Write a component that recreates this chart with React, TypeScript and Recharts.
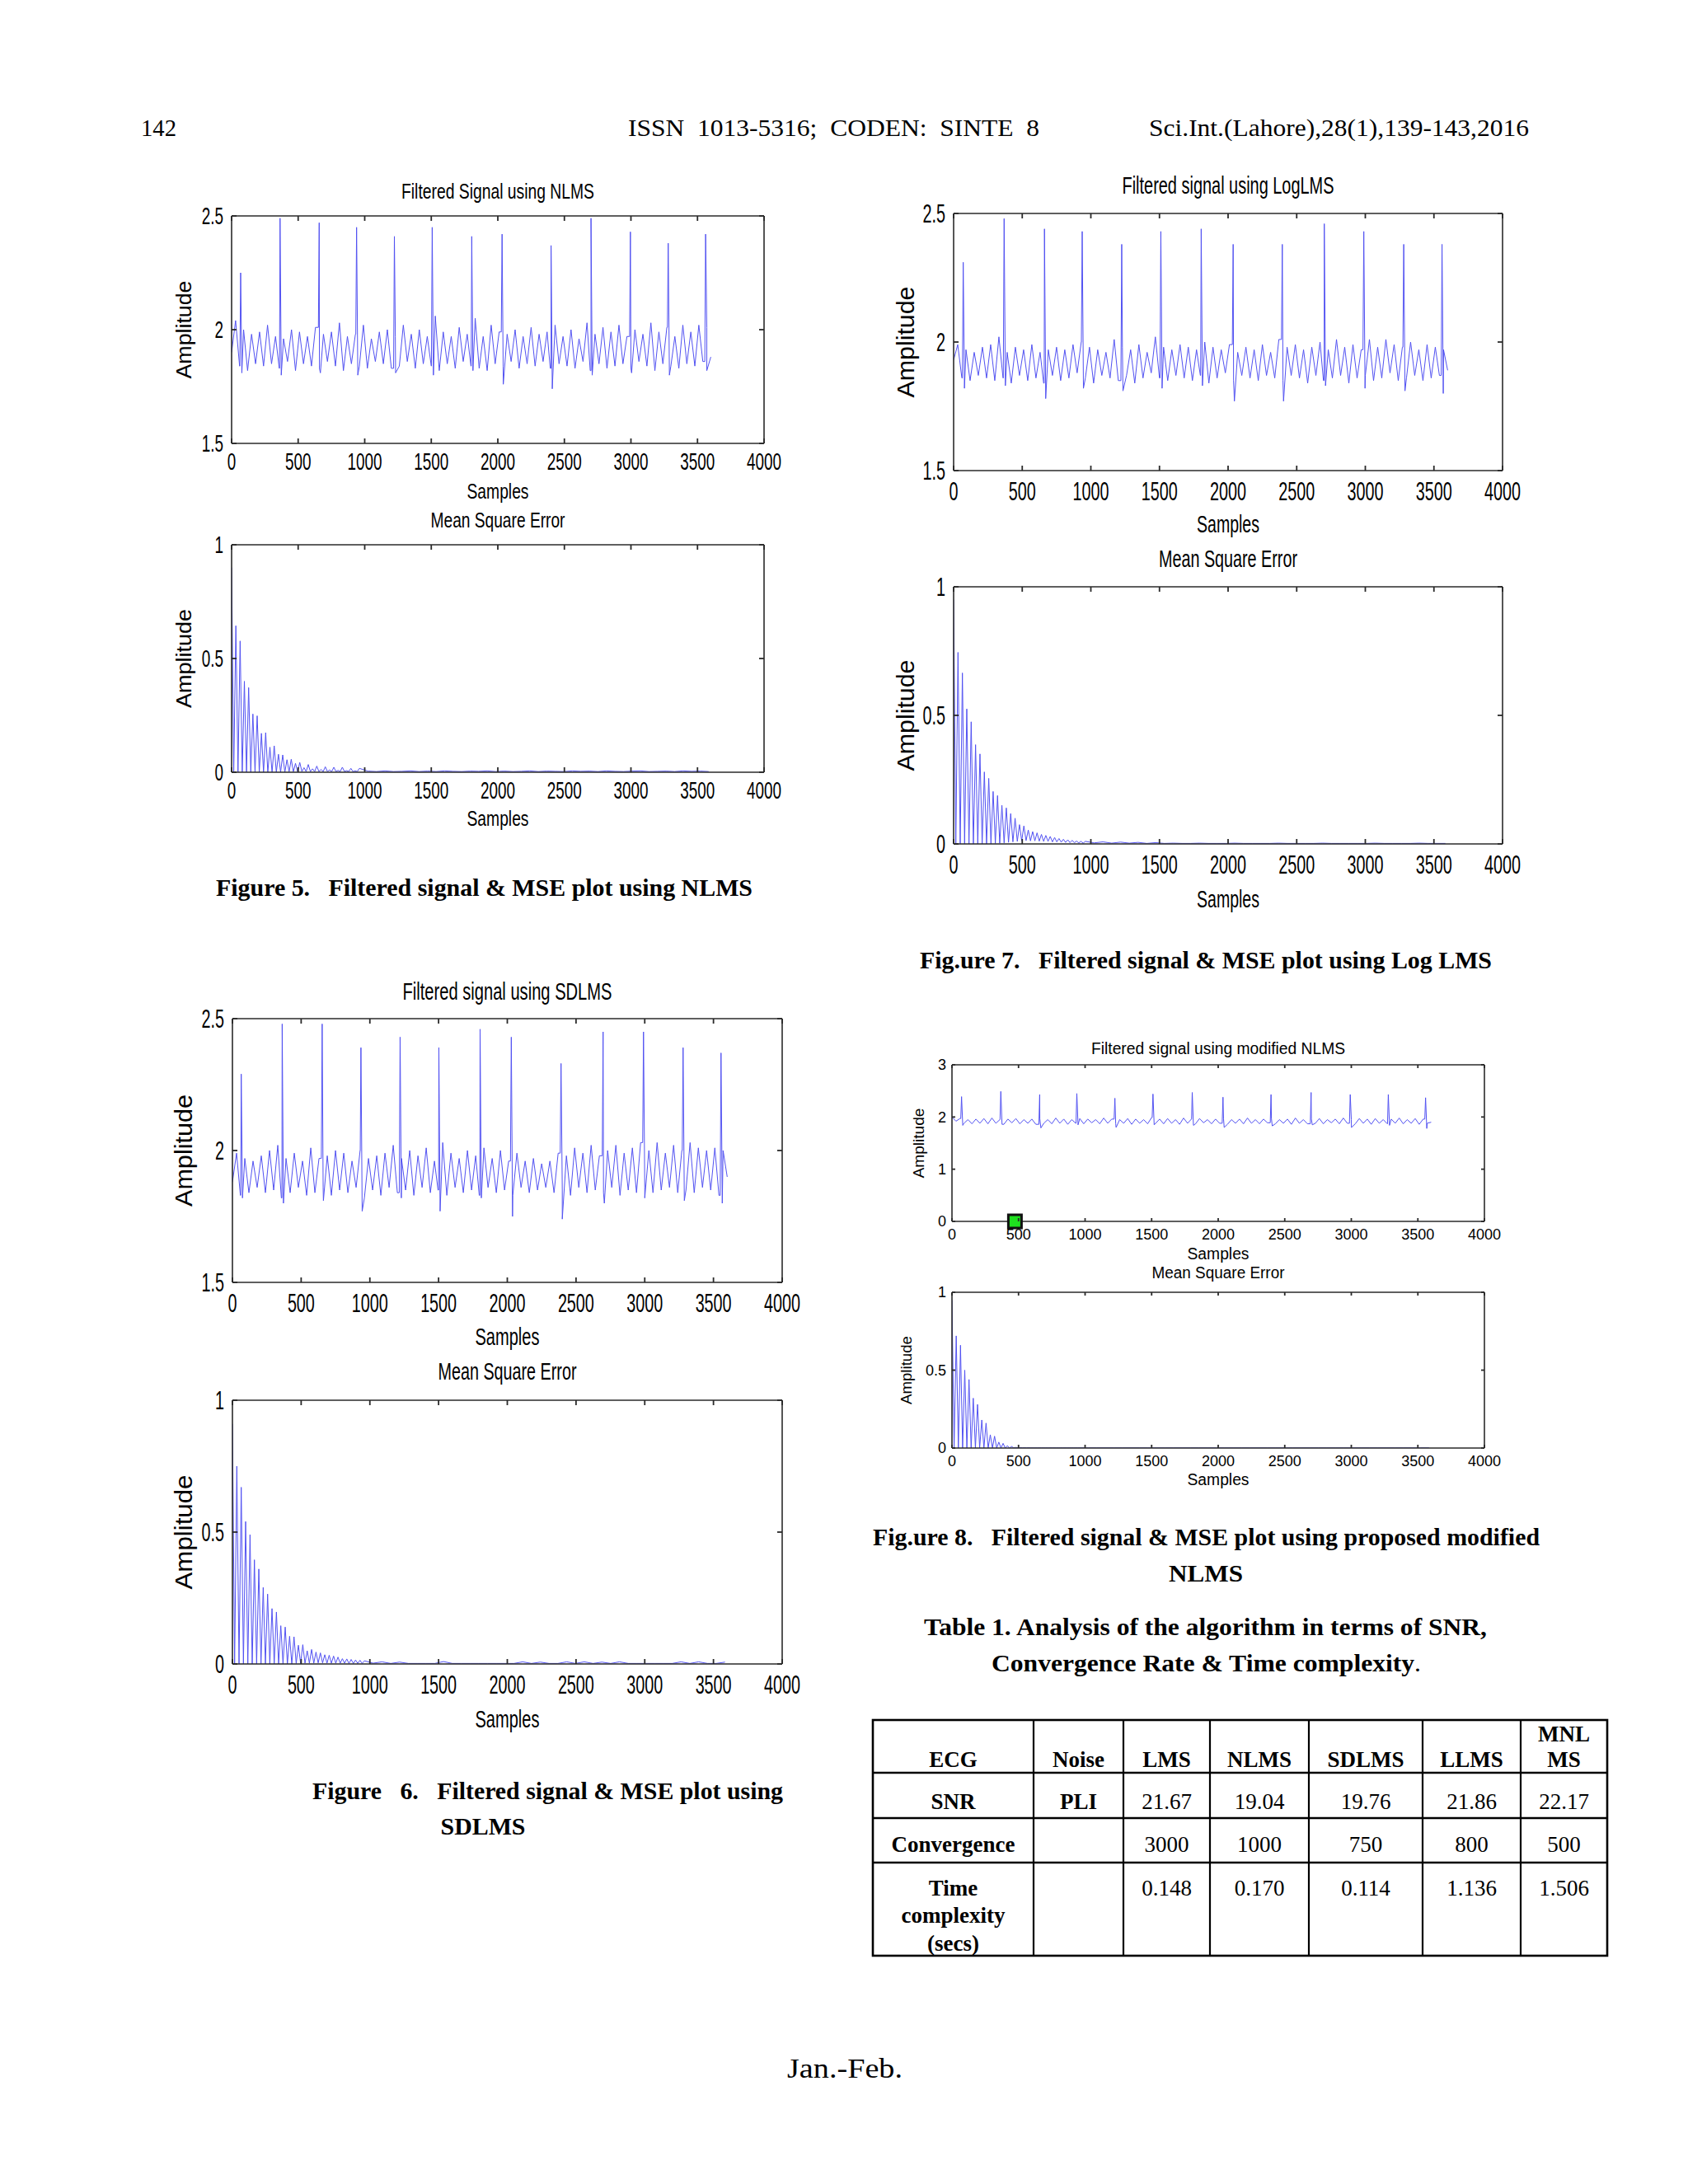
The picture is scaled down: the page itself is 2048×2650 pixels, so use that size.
import React from 'react';
import { LineChart, Line, XAxis, YAxis, ReferenceDot } from 'recharts';

// ---- shared ticks / sampling ----
const X_TICKS = [0, 500, 1000, 1500, 2000, 2500, 3000, 3500, 4000];
const BASE_STEP = 30;
const MSE_HEAD_STEP = 16;
const MSE_TAIL_START = 1024;
const MSE_TAIL_STEP = 64;

// ---- NLMS filtered signal ----
const nlmsBase = [
  1.90, 2.04, 1.84, 2.00, 1.82, 1.98, 1.85, 1.99, 1.84, 2.02,
  1.85, 1.97, 1.83, 1.96, 1.86, 2.00, 1.82, 1.99, 1.85, 1.97,
  1.84, 2.01, 1.83, 1.98, 1.86, 1.99, 1.84, 2.03, 1.82, 1.97,
  1.85, 1.98, 1.84, 2.02, 1.83, 1.96, 1.86, 1.99, 1.85, 2.00,
  1.83, 1.97, 1.84, 2.02, 1.86, 1.98, 1.83, 2.00, 1.85, 1.97,
  1.84, 2.06, 1.82, 1.99, 1.85, 1.97, 1.83, 2.01, 1.86, 1.98,
  1.84, 2.05, 1.83, 1.97, 1.82, 2.02, 1.85, 1.99, 1.84, 1.98,
  1.86, 2.00, 1.83, 1.97, 1.85, 2.01, 1.84, 1.98, 1.86, 1.99,
  1.83, 2.02, 1.85, 1.97, 1.84, 2.00, 1.83, 1.96, 1.86, 2.03,
  1.82, 1.98, 1.85, 2.01, 1.83, 1.99, 1.84, 2.02, 1.85, 1.97,
  1.83, 2.00, 1.86, 1.98, 1.84, 2.03, 1.82, 1.99, 1.85, 2.01,
  1.84, 1.97, 1.83, 2.02, 1.85, 1.99, 1.84, 2.02, 1.86, 2.01,
  1.88,
];
const nlmsSpikeAt = [68, 364, 658, 939, 1223, 1507, 1804, 2032, 2400, 2700, 2996, 3280, 3561];
const nlmsSpikePeak = [2.25, 2.49, 2.47, 2.45, 2.41, 2.45, 2.41, 2.42, 2.37, 2.49, 2.43, 2.38, 2.42];
const nlmsSpikeDip = [1.81, 1.80, 1.81, 1.80, 1.81, 1.80, 1.82, 1.76, 1.74, 1.80, 1.81, 1.80, 1.82];

// ---- LogLMS filtered signal ----
const logBase = [
  1.93, 1.99, 1.86, 1.97, 1.85, 1.96, 1.87, 1.98, 1.86, 1.99,
  1.85, 2.02, 1.86, 1.96, 1.84, 1.98, 1.87, 1.97, 1.85, 1.99,
  1.86, 1.96, 1.84, 1.97, 1.87, 1.98, 1.85, 1.97, 1.86, 1.99,
  1.88, 2.00, 1.86, 1.98, 1.84, 1.97, 1.87, 1.96, 1.86, 2.01,
  1.85, 1.98, 1.87, 1.97, 1.84, 1.99, 1.86, 1.96, 1.88, 2.02,
  1.86, 1.98, 1.85, 1.97, 1.87, 1.99, 1.86, 1.98, 1.85, 1.97,
  1.87, 2.00, 1.84, 1.98, 1.86, 1.97, 1.88, 1.99, 1.85, 1.96,
  1.87, 1.98, 1.86, 1.97, 1.85, 1.99, 1.87, 1.96, 1.86, 2.01,
  1.85, 1.98, 1.87, 1.99, 1.86, 1.97, 1.84, 1.98, 1.87, 2.00,
  1.85, 1.97, 1.86, 2.01, 1.87, 1.98, 1.84, 1.99, 1.86, 1.97,
  1.87, 2.01, 1.85, 1.98, 1.86, 2.01, 1.88, 1.99, 1.85, 1.98,
  1.86, 2.00, 1.87, 1.97, 1.85, 1.99, 1.86, 1.98, 1.87, 1.97,
  1.89,
];
const logSpikeAt = [70, 368, 662, 937, 1225, 1510, 1804, 2037, 2395, 2701, 2989, 3280, 3559];
const logSpikePeak = [2.31, 2.48, 2.44, 2.43, 2.38, 2.43, 2.44, 2.38, 2.38, 2.46, 2.43, 2.38, 2.38];
const logSpikeDip = [1.82, 1.83, 1.78, 1.82, 1.81, 1.82, 1.83, 1.77, 1.77, 1.83, 1.82, 1.81, 1.80];

// ---- SDLMS filtered signal ----
const sdBase = [
  1.88, 1.99, 1.83, 1.97, 1.84, 1.96, 1.86, 1.98, 1.84, 2.00,
  1.85, 2.02, 1.82, 1.97, 1.84, 1.99, 1.86, 1.96, 1.83, 2.01,
  1.84, 1.97, 1.86, 1.98, 1.83, 2.00, 1.85, 1.99, 1.84, 1.96,
  1.86, 2.00, 1.82, 1.97, 1.85, 1.98, 1.83, 1.99, 1.86, 2.02,
  1.84, 1.97, 1.85, 2.00, 1.83, 1.98, 1.86, 2.01, 1.84, 1.96,
  1.85, 2.03, 1.83, 1.99, 1.86, 1.97, 1.84, 2.00, 1.85, 1.98,
  1.83, 2.01, 1.86, 1.97, 1.84, 2.00, 1.85, 1.96, 1.83, 1.99,
  1.86, 1.96, 1.84, 1.97, 1.85, 1.95, 1.86, 1.96, 1.84, 1.99,
  1.85, 1.98, 1.83, 2.01, 1.86, 1.99, 1.84, 2.02, 1.85, 1.98,
  1.84, 2.00, 1.86, 2.02, 1.83, 1.99, 1.85, 2.01, 1.84, 2.03,
  1.86, 2.00, 1.84, 2.03, 1.85, 1.99, 1.86, 2.02, 1.84, 2.00,
  1.85, 2.03, 1.84, 2.01, 1.86, 2.00, 1.85, 2.01, 1.83, 2.00,
  1.90,
];
const sdSpikeAt = [64, 362, 653, 935, 1220, 1502, 1802, 2029, 2391, 2697, 2991, 3279, 3555];
const sdSpikePeak = [2.29, 2.48, 2.48, 2.39, 2.43, 2.39, 2.46, 2.43, 2.33, 2.45, 2.45, 2.39, 2.37];
const sdSpikeDip = [1.82, 1.80, 1.81, 1.77, 1.82, 1.77, 1.82, 1.75, 1.74, 1.80, 1.82, 1.81, 1.80];

// ---- modified NLMS filtered signal ----
const modBase = [
  2.00, 1.92, 1.97, 1.88, 1.95, 1.87, 1.96, 1.88, 1.97, 1.87,
  1.98, 1.88, 1.95, 1.86, 1.96, 1.89, 1.97, 1.87, 1.95, 1.88,
  1.96, 1.86, 1.97, 1.88, 1.95, 1.87, 1.98, 1.88, 1.96, 1.86,
  1.95, 1.88, 1.97, 1.87, 1.96, 1.89, 1.95, 1.87, 1.98, 1.88,
  1.96, 1.87, 1.95, 1.88, 1.97, 1.86, 1.96, 1.88, 1.95, 1.87,
  1.99, 1.88, 1.96, 1.87, 1.97, 1.88, 1.95, 1.86, 1.98, 1.88,
  1.96, 1.87, 1.97, 1.89, 1.95, 1.87, 1.96, 1.88, 1.97, 1.86,
  1.95, 1.88, 1.96, 1.87, 1.98, 1.88, 1.95, 1.87, 1.96, 1.89,
  1.97, 1.87, 1.95, 1.88, 1.96, 1.86, 1.98, 1.88, 1.95, 1.87,
  1.96, 1.88, 1.97, 1.87, 1.95, 1.89, 1.96, 1.87, 1.98, 1.88,
  1.95, 1.87, 1.97, 1.88, 1.96, 1.86, 1.97, 1.88, 1.95, 1.87,
  1.96, 1.88, 1.98, 1.87, 1.95, 1.88, 1.97, 1.86, 1.96, 1.88,
  1.90,
];
const modSpikeAt = [72, 367, 659, 938, 1224, 1510, 1805, 2036, 2397, 2698, 2992, 3278, 3558];
const modSpikePeak = [2.39, 2.49, 2.43, 2.45, 2.36, 2.44, 2.47, 2.38, 2.43, 2.47, 2.43, 2.43, 2.37];
const modSpikeDip = [1.84, 1.86, 1.79, 1.85, 1.80, 1.85, 1.84, 1.80, 1.83, 1.85, 1.80, 1.84, 1.78];
const cursorPoint = { x: 473, y: 0 };

// ---- mean square error curves (head every 16 samples, tail every 64) ----
const nlmsMseHead = [
  0.90, 0, 0.644, 0, 0.577, 0, 0.40, 0, 0.372, 0,
  0.256, 0, 0.248, 0, 0.171, 0, 0.174, 0, 0.11, 0,
  0.116, 0, 0.079, 0, 0.076, 0, 0.055, 0.002, 0.057, 0.002,
  0.039, 0.002, 0.043, 0.003, 0.02, 0.003, 0.034, 0.003, 0.015, 0.003,
  0.027, 0.003, 0.012, 0.003, 0.024, 0.003, 0.01, 0.003, 0.022, 0.003,
  0.008, 0.003, 0.022, 0.003, 0.007, 0.003, 0.017, 0.003, 0.006, 0.003,
  0.017,
];
const nlmsMseTail = [
  0.005, 0.003, 0.006, 0.003, 0.004, 0.006, 0.003, 0.005, 0.003, 0.006,
  0.004, 0.003, 0.005, 0.004, 0.006, 0.003, 0.005, 0.003, 0.004, 0.006,
  0.003, 0.005, 0.004, 0.003, 0.006, 0.004, 0.005, 0.003, 0.006, 0.004,
  0.003, 0.005, 0.006, 0.003, 0.004, 0.005, 0.003, 0.006, 0.004, 0.005,
  0.003,
];
const logMseHead = [
  0.95, 0, 0.745, 0, 0.665, 0, 0.525, 0, 0.475, 0,
  0.386, 0, 0.35, 0, 0.28, 0, 0.255, 0, 0.204, 0.002,
  0.188, 0.003, 0.15, 0.004, 0.14, 0.006, 0.118, 0.008, 0.10, 0.01,
  0.075, 0.012, 0.07, 0.013, 0.054, 0.012, 0.048, 0.012, 0.043, 0.011,
  0.037, 0.01, 0.033, 0.01, 0.029, 0.008, 0.025, 0.008, 0.021, 0.007,
  0.018, 0.006, 0.016, 0.005, 0.014, 0.005, 0.011, 0.004, 0.010, 0.003,
  0.010,
];
const logMseTail = [
  0.004, 0.008, 0.003, 0.007, 0.003, 0.006, 0.002, 0.005, 0.002, 0.003,
  0.002, 0.002, 0.003, 0.002, 0.002, 0.002, 0.003, 0.002, 0.002, 0.002,
  0.002, 0.003, 0.002, 0.002, 0.002, 0.002, 0.003, 0.002, 0.002, 0.002,
  0.002, 0.002, 0.003, 0.002, 0.002, 0.002, 0.002, 0.003, 0.002, 0.002,
  0.002,
];
const sdMseHead = [
  0.91, 0, 0.75, 0, 0.67, 0, 0.54, 0, 0.49, 0,
  0.395, 0, 0.36, 0, 0.29, 0, 0.265, 0, 0.21, 0,
  0.197, 0, 0.145, 0, 0.14, 0, 0.105, 0, 0.103, 0.002,
  0.071, 0.002, 0.073, 0.003, 0.05, 0.003, 0.055, 0.003, 0.045, 0.004,
  0.042, 0.004, 0.035, 0.003, 0.033, 0.003, 0.03, 0.003, 0.026, 0.003,
  0.02, 0.003, 0.019, 0.002, 0.017, 0.002, 0.015, 0.002, 0.014, 0.002,
  0.012,
];
const sdMseTail = [
  0.003, 0.008, 0.002, 0.007, 0.002, 0.002, 0.002, 0.002, 0.009, 0.002,
  0.002, 0.002, 0.002, 0.002, 0.002, 0.002, 0.002, 0.008, 0.002, 0.007,
  0.002, 0.002, 0.008, 0.002, 0.008, 0.002, 0.007, 0.002, 0.008, 0.002,
  0.002, 0.002, 0.002, 0.002, 0.002, 0.008, 0.002, 0.008, 0.002, 0.002,
  0.007,
];
const modMseHead = [
  0.95, 0, 0.72, 0, 0.66, 0, 0.50, 0, 0.44, 0,
  0.32, 0, 0.28, 0, 0.18, 0, 0.16, 0, 0.085, 0,
  0.076, 0, 0.038, 0, 0.03, 0, 0.015, 0, 0.01, 0.001,
  0.004, 0.001, 0.003, 0.001, 0.002, 0.001, 0.002, 0.001, 0.001, 0.001,
  0.001, 0.001, 0.001, 0.001, 0.001, 0.001, 0.001, 0.001, 0.001, 0.001,
  0.001, 0.001, 0.001, 0.001, 0.001, 0.001, 0.001, 0.001, 0.001, 0.001,
  0.001,
];
const modMseTail = [
  0.001, 0.001, 0.001, 0.001, 0.001, 0.001, 0.001, 0.001, 0.001, 0.001,
  0.001, 0.001, 0.001, 0.001, 0.001, 0.001, 0.001, 0.001, 0.001, 0.001,
  0.001, 0.001, 0.001, 0.001, 0.001, 0.001, 0.001, 0.001, 0.001, 0.001,
  0.001, 0.001, 0.001, 0.001, 0.001, 0.001, 0.001, 0.001, 0.001, 0.001,
  0.001,
];

// ---- table 1 ----
const tableHead = ['ECG', 'Noise', 'LMS', 'NLMS', 'SDLMS', 'LLMS'];
const snrRow = ['21.67', '19.04', '19.76', '21.86', '22.17'];
const convergenceRow = ['3000', '1000', '750', '800', '500'];
const timeRow = ['0.148', '0.170', '0.114', '1.136', '1.506'];

type Pt = { x: number; y: number };

function buildSignal(base: number[], at: number[], peak: number[], dip: number[]): Pt[] {
  const pts: Pt[] = base.map((y, i) => ({ x: i * BASE_STEP, y }));
  at.forEach((a, k) => {
    const foot = base[Math.floor(a / BASE_STEP)];
    pts.push({ x: a - 6, y: foot }, { x: a, y: peak[k] }, { x: a + 9, y: dip[k] });
  });
  return pts.sort((p, q) => p.x - q.x);
}

function buildMse(head: number[], tail: number[]): Pt[] {
  return [
    ...head.map((y, i) => ({ x: i * MSE_HEAD_STEP, y })),
    ...tail.map((y, i) => ({ x: MSE_TAIL_START + i * MSE_TAIL_STEP, y })),
  ];
}

const SERIF = "'Liberation Serif', 'Times New Roman', serif";
const NARROW = "'Liberation Sans Narrow', 'Liberation Sans', Arial, sans-serif";
const SANS = "'Liberation Sans', Arial, sans-serif";
const AXIS = '#2a2a2a';
const TRACE = '#5252f2';

const PAD_L = 80;
const PAD_R = 70;
const PAD_T = 16;
const PAD_B = 70;

type PanelSpec = {
  id: string;
  left: number; top: number; width: number; height: number;
  yDomain: [number, number]; yTicks: number[];
  family: string; tickFont: number; digitW?: number; xTickDy: number; yGap: number; tickLen: number;
  title: string; titleY: number; titleW: number; titleFont: number;
  samplesY: number; samplesW: number; ampX: number; ampW: number; ampFont: number;
  data: Pt[]; cursor?: Pt;
};

function fitLength(label: string, digitW?: number) {
  if (!digitW) return {};
  const w = [...label].reduce((s, c) => s + (c === '.' ? digitW * 0.5 : digitW), 0);
  return { textLength: w, lengthAdjust: 'spacingAndGlyphs' };
}

const sigY = { yDomain: [1.5, 2.5] as [number, number], yTicks: [1.5, 2, 2.5] };
const mseY = { yDomain: [0, 1] as [number, number], yTicks: [0, 0.5, 1] };
const smallFont = { family: NARROW, tickFont: 29, digitW: 10.5, xTickDy: 32, yGap: 10, tickLen: 6, titleFont: 26, ampFont: 26 };
const bigFont = { family: NARROW, tickFont: 31, digitW: 11, xTickDy: 36, yGap: 10, tickLen: 6, titleFont: 29, ampFont: 29 };
const arialFont = { family: SANS, tickFont: 18, xTickDy: 22, yGap: 7, tickLen: 4, titleFont: 20, ampFont: 19 };

const panels: PanelSpec[] = [
  {
    id: 'f5s', left: 281, top: 262, width: 646, height: 276, ...sigY, ...smallFont,
    title: 'Filtered Signal using NLMS', titleY: 241, titleW: 234,
    samplesY: 605, samplesW: 75, ampX: 223, ampW: 119,
    data: buildSignal(nlmsBase, nlmsSpikeAt, nlmsSpikePeak, nlmsSpikeDip),
  },
  {
    id: 'f5m', left: 281, top: 661, width: 646, height: 276, ...mseY, ...smallFont,
    title: 'Mean Square Error', titleY: 640, titleW: 163,
    samplesY: 1002, samplesW: 75, ampX: 223, ampW: 120,
    data: buildMse(nlmsMseHead, nlmsMseTail),
  },
  {
    id: 'f7s', left: 1157, top: 259, width: 666, height: 312, ...sigY, ...bigFont,
    title: 'Filtered signal using LogLMS', titleY: 235, titleW: 257,
    samplesY: 646, samplesW: 76, ampX: 1099, ampW: 135,
    data: buildSignal(logBase, logSpikeAt, logSpikePeak, logSpikeDip),
  },
  {
    id: 'f7m', left: 1157, top: 712, width: 666, height: 312, ...mseY, ...bigFont,
    title: 'Mean Square Error', titleY: 688, titleW: 168,
    samplesY: 1101, samplesW: 76, ampX: 1099, ampW: 135,
    data: buildMse(logMseHead, logMseTail),
  },
  {
    id: 'f6s', left: 282, top: 1236, width: 667, height: 320, ...sigY, ...bigFont,
    title: 'Filtered signal using SDLMS', titleY: 1213, titleW: 254,
    samplesY: 1632, samplesW: 78, ampX: 223, ampW: 136,
    data: buildSignal(sdBase, sdSpikeAt, sdSpikePeak, sdSpikeDip),
  },
  {
    id: 'f6m', left: 282, top: 1699, width: 667, height: 320, ...mseY, ...bigFont,
    title: 'Mean Square Error', titleY: 1674, titleW: 168,
    samplesY: 2096, samplesW: 78, ampX: 223, ampW: 139,
    data: buildMse(sdMseHead, sdMseTail),
  },
  {
    id: 'f8s', left: 1155, top: 1292, width: 646, height: 190,
    yDomain: [0, 3], yTicks: [0, 1, 2, 3], ...arialFont,
    title: 'Filtered signal using modified NLMS', titleY: 1279, titleW: 308,
    samplesY: 1528, samplesW: 75, ampX: 1114, ampW: 85,
    data: buildSignal(modBase, modSpikeAt, modSpikePeak, modSpikeDip),
    cursor: cursorPoint,
  },
  {
    id: 'f8m', left: 1155, top: 1568, width: 646, height: 189, ...mseY, ...arialFont,
    title: 'Mean Square Error', titleY: 1551, titleW: 161,
    samplesY: 1802, samplesW: 75, ampX: 1099, ampW: 83,
    data: buildMse(modMseHead, modMseTail),
  },
];

function MatlabAxes({ p }: { p: PanelSpec }) {
  const line = { stroke: AXIS, strokeWidth: 1.6 };
  const xDomain: [number, number] = [0, 4000];
  // bottom labels; the inward ticks of the bottom and top edges are drawn with them
  const xTick = (props: any) => {
    const { x, y } = props;
    const label = String(props.payload.value);
    return (
      <g>
        <line x1={x} x2={x} y1={y} y2={y - p.tickLen} stroke={AXIS} strokeWidth={1.8} />
        <line x1={x} x2={x} y1={y - p.height} y2={y - p.height + p.tickLen} stroke={AXIS} strokeWidth={1.8} />
        <text x={x} y={y + p.xTickDy} textAnchor="middle" fontFamily={p.family}
          fontSize={p.tickFont} fill="#000" {...fitLength(label, p.digitW)}>{label}</text>
      </g>
    );
  };
  // left labels; inward ticks of the left and right edges
  const yTick = (props: any) => {
    const { x, y } = props;
    const label = String(props.payload.value);
    return (
      <g>
        <line x1={x} x2={x + p.tickLen} y1={y} y2={y} stroke={AXIS} strokeWidth={1.8} />
        <line x1={x + p.width} x2={x + p.width - p.tickLen} y1={y} y2={y} stroke={AXIS} strokeWidth={1.8} />
        <text x={x - p.yGap} y={y + p.tickFont * 0.36} textAnchor="end" fontFamily={p.family}
          fontSize={p.tickFont} fill="#000" {...fitLength(label, p.digitW)}>{label}</text>
      </g>
    );
  };
  return (
    <div style={{ position: 'absolute', left: p.left - PAD_L, top: p.top - PAD_T }}>
      <LineChart width={p.width + PAD_L + PAD_R} height={p.height + PAD_T + PAD_B} data={p.data}
        margin={{ top: PAD_T, right: PAD_R, bottom: 0, left: 0 }}>
        <XAxis xAxisId="x" dataKey="x" type="number" domain={xDomain} ticks={X_TICKS} allowDataOverflow
          height={PAD_B} tickSize={0} tickMargin={0} tickLine={false} axisLine={line} tick={xTick} interval={0} />
        <XAxis xAxisId="xt" orientation="top" mirror type="number" domain={xDomain} ticks={X_TICKS} allowDataOverflow
          tick={false} tickLine={false} axisLine={line} />
        <YAxis yAxisId="y" type="number" domain={p.yDomain} ticks={p.yTicks} allowDataOverflow
          width={PAD_L} tickSize={0} tickMargin={0} tickLine={false} axisLine={line} tick={yTick} interval={0} />
        <YAxis yAxisId="yr" orientation="right" mirror type="number" domain={p.yDomain} ticks={p.yTicks} allowDataOverflow
          tick={false} tickLine={false} axisLine={line} />
        <Line xAxisId="x" yAxisId="y" type="linear" dataKey="y" stroke={TRACE} strokeWidth={1}
          dot={false} activeDot={false} isAnimationActive={false} />
        {p.cursor && (
          <ReferenceDot xAxisId="x" yAxisId="y" x={p.cursor.x} y={p.cursor.y} r={8}
            shape={(s: any) => (
              <rect x={s.cx - 8} y={s.cy - 8} width={16} height={16} fill="#1fe01f" stroke="#111" strokeWidth={3} />
            )} />
        )}
      </LineChart>
    </div>
  );
}

type TxtProps = {
  x: number; y: number; w?: number; size: number; family?: string; weight?: number;
  anchor?: 'start' | 'middle' | 'end'; rotate?: boolean; children: React.ReactNode;
};

function Txt({ x, y, w, size, family = SERIF, weight = 400, anchor = 'start', rotate, children }: TxtProps) {
  return (
    <text x={x} y={y} fontFamily={family} fontSize={size} fontWeight={weight} textAnchor={anchor} fill="#000"
      textLength={w} lengthAdjust={w ? 'spacingAndGlyphs' : undefined}
      dominantBaseline={rotate ? 'central' : undefined}
      transform={rotate ? `rotate(-90 ${x} ${y})` : undefined}
      style={{ whiteSpace: 'pre' }}>{children}</text>
  );
}

const COL_X = [1059, 1254, 1363, 1468, 1588, 1726, 1845, 1950];
const ROW_Y = [2087, 2151, 2206, 2260, 2373];
const colCenter = (i: number) => (COL_X[i] + COL_X[i + 1]) / 2;

function PageText() {
  return (
    <svg width={2048} height={2650} style={{ position: 'absolute', left: 0, top: 0, pointerEvents: 'none' }}>
      {/* running header */}
      <Txt x={171} y={165} w={43} size={29}>142</Txt>
      <Txt x={762} y={165} w={499} size={30}>{'ISSN  1013-5316;  CODEN:  SINTE  8'}</Txt>
      <Txt x={1394} y={165} w={461} size={30}>Sci.Int.(Lahore),28(1),139-143,2016</Txt>

      {/* axes texts */}
      {panels.map((p) => {
        const cx = p.left + p.width / 2;
        return (
          <g key={p.id}>
            <Txt x={cx} y={p.titleY} w={p.titleW} size={p.titleFont} family={p.family} anchor="middle">{p.title}</Txt>
            <Txt x={cx} y={p.samplesY} w={p.samplesW} size={p.titleFont} family={p.family} anchor="middle">Samples</Txt>
            <Txt x={p.ampX} y={p.top + p.height / 2} w={p.ampW} size={p.ampFont} family={SANS} anchor="middle" rotate>Amplitude</Txt>
          </g>
        );
      })}

      {/* captions */}
      <Txt x={262} y={1087} w={651} size={30} weight={700}>{'Figure 5.   Filtered signal & MSE plot using NLMS'}</Txt>
      <Txt x={1116} y={1175} w={694} size={30} weight={700}>{'Fig.ure 7.   Filtered signal & MSE plot using Log LMS'}</Txt>
      <Txt x={379} y={2183} w={571} size={30} weight={700}>{'Figure   6.   Filtered signal & MSE plot using'}</Txt>
      <Txt x={586} y={2226} w={103} size={30} weight={700} anchor="middle">SDLMS</Txt>
      <Txt x={1059} y={1875} w={809} size={30} weight={700}>{'Fig.ure 8.   Filtered signal & MSE plot using proposed modified'}</Txt>
      <Txt x={1463} y={1919} w={90} size={30} weight={700} anchor="middle">NLMS</Txt>
      <Txt x={1121} y={1984} w={683} size={30} weight={700}>Table 1. Analysis of the algorithm in terms of SNR,</Txt>
      <Txt x={1203} y={2028} w={521} size={30} weight={700}>
        Convergence Rate &amp; Time complexity<tspan fontWeight={400}>.</tspan>
      </Txt>

      {/* table grid */}
      <rect x={COL_X[0]} y={ROW_Y[0]} width={COL_X[7] - COL_X[0]} height={ROW_Y[4] - ROW_Y[0]}
        fill="none" stroke="#000" strokeWidth={2.6} />
      {COL_X.slice(1, 7).map((x) => (
        <line key={`c${x}`} x1={x} x2={x} y1={ROW_Y[0]} y2={ROW_Y[4]} stroke="#000" strokeWidth={2.2} />
      ))}
      {ROW_Y.slice(1, 4).map((y) => (
        <line key={`r${y}`} x1={COL_X[0]} x2={COL_X[7]} y1={y} y2={y} stroke="#000" strokeWidth={2.6} />
      ))}

      {/* table text */}
      {tableHead.map((h, i) => (
        <Txt key={h} x={colCenter(i)} y={2144} size={27} weight={700} anchor="middle">{h}</Txt>
      ))}
      <Txt x={colCenter(6)} y={2113} size={27} weight={700} anchor="middle">MNL</Txt>
      <Txt x={colCenter(6)} y={2144} size={27} weight={700} anchor="middle">MS</Txt>

      <Txt x={colCenter(0)} y={2195} size={27} weight={700} anchor="middle">SNR</Txt>
      <Txt x={colCenter(1)} y={2195} size={27} weight={700} anchor="middle">PLI</Txt>
      {snrRow.map((v, i) => (
        <Txt key={`s${i}`} x={colCenter(i + 2)} y={2195} size={27} anchor="middle">{v}</Txt>
      ))}
      <Txt x={colCenter(0)} y={2247} size={27} weight={700} anchor="middle">Convergence</Txt>
      {convergenceRow.map((v, i) => (
        <Txt key={`v${i}`} x={colCenter(i + 2)} y={2247} size={27} anchor="middle">{v}</Txt>
      ))}
      <Txt x={colCenter(0)} y={2300} size={27} weight={700} anchor="middle">Time</Txt>
      <Txt x={colCenter(0)} y={2333} size={27} weight={700} anchor="middle">complexity</Txt>
      <Txt x={colCenter(0)} y={2367} size={27} weight={700} anchor="middle">(secs)</Txt>
      {timeRow.map((v, i) => (
        <Txt key={`t${i}`} x={colCenter(i + 2)} y={2300} size={27} anchor="middle">{v}</Txt>
      ))}

      {/* footer */}
      <Txt x={1025} y={2521} w={140} size={33} anchor="middle">Jan.-Feb.</Txt>
    </svg>
  );
}

export default function App() {
  return (
    <div style={{ position: 'absolute', left: 0, top: 0, width: 2048, height: 2650, background: '#fff', overflow: 'hidden' }}>
      {panels.map((p) => (
        <MatlabAxes key={p.id} p={p} />
      ))}
      <PageText />
    </div>
  );
}
